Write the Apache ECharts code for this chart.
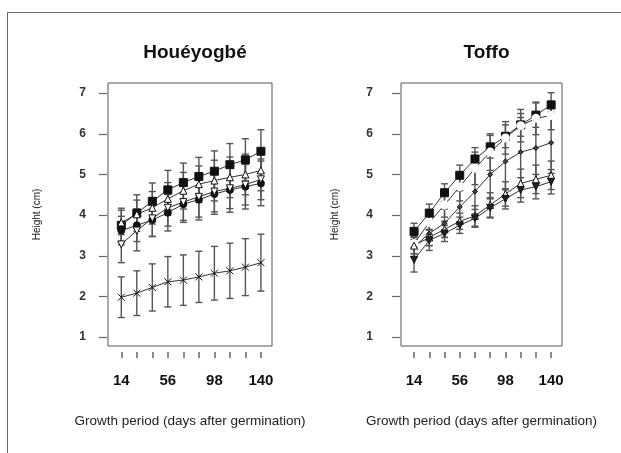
<!DOCTYPE html>
<html>
<head>
<meta charset="utf-8">
<script src="https://cdn.jsdelivr.net/npm/echarts@6/dist/echarts.min.js"></script>
<style>
html,body{margin:0;padding:0;background:#fff;}
#c{width:621px;height:453px;}
</style>
</head>
<body>
<div id="c"></div>
<script>
// ---- data ----
const days = [14, 28, 42, 56, 70, 84, 98, 112, 126, 140];
const xTickValues = [14, 28, 42, 56, 70, 84, 98, 112, 126, 140];
const xLabelValues = [14, 56, 98, 140];
const yLabelValues = [1, 2, 3, 4, 5, 6, 7];
const panelTitles = ['Houéyogbé', 'Toffo'];

// Houéyogbé means and SD
const houA = [3.75, 4.05, 4.34, 4.62, 4.80, 4.95, 5.08, 5.24, 5.36, 5.57];
const houA_sd = [0.42, 0.45, 0.45, 0.48, 0.48, 0.47, 0.50, 0.52, 0.52, 0.53];
const houB = [3.82, 4.02, 4.18, 4.40, 4.60, 4.76, 4.85, 4.93, 5.00, 5.10];
const houB_sd = [0.30, 0.35, 0.40, 0.40, 0.45, 0.45, 0.50, 0.50, 0.50, 0.50];
const houC = [3.62, 3.75, 3.88, 4.06, 4.27, 4.38, 4.52, 4.62, 4.70, 4.78];
const houC_sd = [0.35, 0.40, 0.40, 0.45, 0.45, 0.50, 0.50, 0.55, 0.55, 0.55];
const houD = [3.28, 3.62, 3.92, 4.18, 4.32, 4.45, 4.58, 4.66, 4.75, 4.88];
const houD_sd = [0.45, 0.50, 0.45, 0.45, 0.45, 0.50, 0.50, 0.50, 0.50, 0.50];
const houE = [1.98, 2.08, 2.22, 2.36, 2.40, 2.48, 2.57, 2.63, 2.72, 2.83];
const houE_sd = [0.50, 0.55, 0.58, 0.62, 0.62, 0.63, 0.66, 0.68, 0.70, 0.70];

// Toffo means and SD
const tofA = [3.60, 4.05, 4.55, 4.98, 5.38, 5.68, 5.94, 6.22, 6.46, 6.71];
const tofA_sd = [0.20, 0.22, 0.22, 0.25, 0.28, 0.28, 0.28, 0.28, 0.30, 0.30];
const tofB = [3.30, 3.82, 4.25, 4.70, 5.15, 5.55, 5.90, 6.20, 6.38, 6.45];
const tofB_sd = [0.25, 0.30, 0.30, 0.35, 0.40, 0.45, 0.40, 0.40, 0.40, 0.35];
const tofC = [3.22, 3.55, 3.80, 4.20, 4.58, 5.00, 5.32, 5.55, 5.65, 5.78];
const tofC_sd = [0.25, 0.30, 0.35, 0.40, 0.55, 0.60, 0.70, 0.85, 0.85, 0.75];
const tofD = [3.25, 3.45, 3.65, 3.85, 3.98, 4.25, 4.52, 4.78, 4.88, 4.98];
const tofD_sd = [0.20, 0.20, 0.20, 0.20, 0.25, 0.30, 0.30, 0.35, 0.35, 0.35];
const tofE = [2.90, 3.38, 3.55, 3.75, 3.92, 4.18, 4.40, 4.62, 4.70, 4.82];
const tofE_sd = [0.30, 0.25, 0.20, 0.20, 0.22, 0.25, 0.25, 0.30, 0.30, 0.30];

// ---- styling ----
const FONT = '"Liberation Sans", Arial, sans-serif';
const LINE = '#333';
const BAR = '#555';
const CROSS = 'path://M0,0L10,10M10,0L0,10';
const INVTRI = 'path://M0,0L10,0L5,9Z';

const panelSeries = [
  [
    {m: houA, s: houA_sd, sym: 'rect', size: 8, fill: '#111'},
    {m: houB, s: houB_sd, sym: 'triangle', size: 7, fill: '#fff'},
    {m: houC, s: houC_sd, sym: 'circle', size: 7, fill: '#111'},
    {m: houD, s: houD_sd, sym: INVTRI, size: 7, fill: '#fff'},
    {m: houE, s: houE_sd, sym: CROSS, size: 7, fill: 'none'}
  ],
  [
    {m: tofA, s: tofA_sd, sym: 'rect', size: 8, fill: '#111'},
    {m: tofB, s: tofB_sd, sym: 'emptyCircle', size: 7, fill: '#fff'},
    {m: tofC, s: tofC_sd, sym: 'diamond', size: 5, fill: '#444'},
    {m: tofD, s: tofD_sd, sym: 'triangle', size: 7, fill: '#fff'},
    {m: tofE, s: tofE_sd, sym: INVTRI, size: 7, fill: '#222'}
  ]
];

const grids = [
  {left: 108, top: 83, width: 164, height: 263},
  {left: 401, top: 83, width: 161, height: 263}
];
const yLabelMargins = [21, 27];
const yTitleX = [37, 335];

const option = {
  animation: false,
  backgroundColor: '#fff',
  textStyle: {fontFamily: FONT},
  title: [],
  grid: grids.map(g => Object.assign({show: true, borderColor: '#555', borderWidth: 1, backgroundColor: 'transparent'}, g)),
  xAxis: [],
  yAxis: [],
  series: [],
  graphic: [
    {type: 'line', shape: {x1: 7, y1: 12.5, x2: 621, y2: 12.5}, style: {stroke: '#666', lineWidth: 1}},
    {type: 'line', shape: {x1: 7.5, y1: 12, x2: 7.5, y2: 453}, style: {stroke: '#666', lineWidth: 1}}
  ]
};

grids.forEach((g, i) => {
  const cx = g.left + g.width / 2;
  option.title.push({
    text: panelTitles[i], left: cx, top: 38, textAlign: 'center',
    textStyle: {fontFamily: FONT, fontSize: 19, fontWeight: 'bold', color: '#111'}
  });
  option.graphic.push({
    type: 'text', x: cx, y: 421,
    style: {text: 'Growth period (days after germination)', font: '13.5px ' + FONT, fill: '#222', align: 'center', verticalAlign: 'middle'}
  });
  option.graphic.push({
    type: 'text', x: yTitleX[i], y: g.top + g.height / 2, rotation: Math.PI / 2,
    style: {text: 'Height (cm)', font: '10px ' + FONT, fill: '#222', align: 'center', verticalAlign: 'middle'}
  });
  option.xAxis.push({
    type: 'value', gridIndex: i, min: 2, max: 150, offset: 6,
    splitLine: {show: false},
    axisLine: {show: false},
    axisTick: {show: true, length: 6, customValues: xTickValues, lineStyle: {color: '#666', width: 1.5}},
    axisLabel: {customValues: xLabelValues, margin: 21, fontSize: 15, fontWeight: 'bold', color: '#111', fontFamily: FONT}
  });
  option.yAxis.push({
    type: 'value', gridIndex: i, min: 0.78, max: 7.25, offset: 1,
    splitLine: {show: false},
    axisLine: {show: false},
    axisTick: {show: true, length: 8, customValues: yLabelValues, lineStyle: {color: '#666', width: 1.2}},
    axisLabel: {customValues: yLabelValues, margin: yLabelMargins[i], fontSize: 12, fontWeight: 'bold', color: '#333', fontFamily: FONT}
  });

  panelSeries[i].forEach(ser => {
    // error bars
    option.series.push({
      type: 'custom', xAxisIndex: i, yAxisIndex: i, z: 2,
      data: days.map((d, k) => [d, ser.m[k], ser.s[k]]),
      renderItem: function (params, api) {
        const x = api.value(0), m = api.value(1), s = api.value(2);
        const top = api.coord([x, m + s]);
        const bot = api.coord([x, m - s]);
        const w = 3.5;
        const st = {stroke: BAR, lineWidth: 1.4};
        return {
          type: 'group',
          children: [
            {type: 'line', shape: {x1: top[0], y1: top[1], x2: bot[0], y2: bot[1]}, style: st},
            {type: 'line', shape: {x1: top[0] - w, y1: top[1], x2: top[0] + w, y2: top[1]}, style: st},
            {type: 'line', shape: {x1: bot[0] - w, y1: bot[1], x2: bot[0] + w, y2: bot[1]}, style: st}
          ]
        };
      }
    });
    // mean line
    option.series.push({
      type: 'line', xAxisIndex: i, yAxisIndex: i, z: 3,
      data: days.map((d, k) => [d, ser.m[k]]),
      symbol: ser.sym, symbolSize: ser.size, showSymbol: true,
      lineStyle: {color: LINE, width: 1},
      itemStyle: {color: ser.fill, borderColor: '#111', borderWidth: 1},
      emphasis: {disabled: true}
    });
  });
});

const chart = echarts.init(document.getElementById('c'), null, {renderer: 'canvas'});
chart.setOption(option);
</script>
</body>
</html>
